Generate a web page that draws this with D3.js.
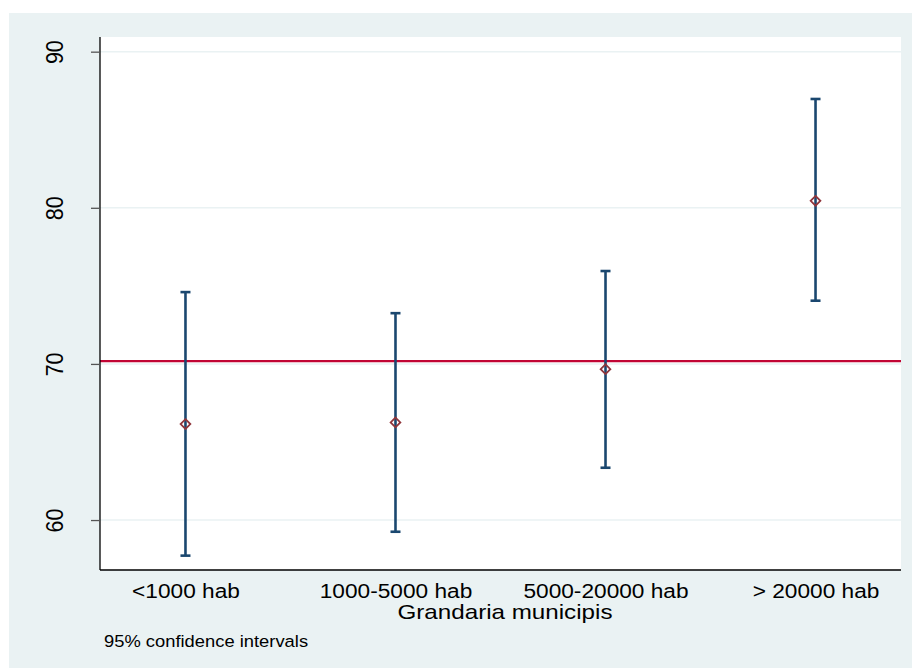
<!DOCTYPE html>
<html>
<head>
<meta charset="utf-8">
<script src="https://cdn.jsdelivr.net/npm/d3@7/dist/d3.min.js"></script>
<style>
  html, body { margin: 0; padding: 0; background: #ffffff; }
  svg { display: block; font-family: "Liberation Sans", Arial, Helvetica, sans-serif; }
</style>
</head>
<body>
<svg id="chart" width="912" height="669"></svg>
<script>
// ---- data ----
const categories = ["<1000 hab", "1000-5000 hab", "5000-20000 hab", "> 20000 hab"];
const means = [66.15, 66.25, 69.66, 80.45];
const lower = [57.72, 59.25, 63.35, 74.05];
const upper = [74.6, 73.25, 75.95, 86.97];
const referenceLine = 70.18;
const yTicks = [60, 70, 80, 90];
const xTitle = "Grandaria municipis";
const note = "95% confidence intervals";

// ---- layout ----
const W = 912, H = 669;
const plot = { left: 100, right: 901, top: 37, bottom: 570 };
const svg = d3.select("#chart");

// outer background
svg.append("rect").attr("x", 9).attr("y", 13).attr("width", W - 9).attr("height", 655)
  .attr("fill", "#eaf2f3");
// plot region
svg.append("rect").attr("x", plot.left).attr("y", plot.top)
  .attr("width", plot.right - plot.left).attr("height", plot.bottom - plot.top)
  .attr("fill", "#ffffff");

const x = d3.scalePoint().domain(categories).range([plot.left, plot.right]).padding(0.407);
const y = d3.scaleLinear().domain([56.8, 90.94]).range([plot.bottom, plot.top]);

// gridlines
svg.append("g").selectAll("line").data(yTicks).join("line")
  .attr("x1", plot.left).attr("x2", plot.right)
  .attr("y1", d => y(d)).attr("y2", d => y(d))
  .attr("stroke", "#eaf2f3").attr("stroke-width", 1.5);

// reference line
svg.append("line")
  .attr("x1", plot.left).attr("x2", plot.right)
  .attr("y1", y(referenceLine)).attr("y2", y(referenceLine))
  .attr("stroke", "#c10534").attr("stroke-width", 2.4);

// error bars
const idx = d3.range(categories.length);
const eb = svg.append("g").attr("stroke", "#1a476f").attr("stroke-width", 2.6).attr("fill", "none");
eb.selectAll("line.v").data(idx).join("line").attr("class", "v")
  .attr("x1", i => x(categories[i])).attr("x2", i => x(categories[i]))
  .attr("y1", i => y(lower[i])).attr("y2", i => y(upper[i]));
eb.selectAll("line.cu").data(idx).join("line").attr("class", "cu")
  .attr("x1", i => x(categories[i]) - 5).attr("x2", i => x(categories[i]) + 5)
  .attr("y1", i => y(upper[i])).attr("y2", i => y(upper[i]));
eb.selectAll("line.cl").data(idx).join("line").attr("class", "cl")
  .attr("x1", i => x(categories[i]) - 5).attr("x2", i => x(categories[i]) + 5)
  .attr("y1", i => y(lower[i])).attr("y2", i => y(lower[i]));

// markers (hollow diamonds)
const diamond = d3.symbol().type(d3.symbolDiamond2).size(60);
svg.append("g").selectAll("path").data(idx).join("path")
  .attr("transform", i => `translate(${x(categories[i])},${y(means[i])})`)
  .attr("d", diamond)
  .attr("fill", "none").attr("stroke", "#90353b").attr("stroke-width", 1.8);

// y axis
const yAxis = svg.append("g").attr("transform", `translate(${plot.left},0)`)
  .call(d3.axisLeft(y).tickValues(yTicks).tickSize(9).tickSizeOuter(0).tickFormat(d3.format("d")));
yAxis.select(".domain").attr("stroke", "#000").attr("stroke-width", 1.3)
  .attr("d", `M0,${plot.bottom}V${plot.top}`);
yAxis.selectAll(".tick line").attr("stroke", "#555").attr("stroke-width", 1.3);
yAxis.selectAll(".tick text")
  .attr("x", 0).attr("y", 0).attr("dy", 0)
  .attr("text-anchor", "middle")
  .attr("font-size", 21.5).attr("fill", "#000")
  .attr("font-family", "'Liberation Sans', Arial, sans-serif")
  .attr("transform", "translate(-37,0) scale(1.15,1) rotate(-90)");

// x axis
const xAxis = svg.append("g").attr("transform", `translate(0,${plot.bottom})`)
  .call(d3.axisBottom(x).tickSize(0).tickSizeOuter(0));
xAxis.select(".domain").attr("stroke", "#000").attr("stroke-width", 1.3)
  .attr("d", `M${plot.left},0H${plot.right}`);
xAxis.selectAll(".tick text")
  .attr("y", 0).attr("dy", 0)
  .attr("text-anchor", "middle")
  .attr("font-size", 21).attr("fill", "#000")
  .attr("font-family", "'Liberation Sans', Arial, sans-serif")
  .attr("transform", "translate(0,28) scale(1.08,1)");

// x title
svg.append("g").attr("transform", "translate(505,619) scale(1.18,1)")
  .append("text").attr("text-anchor", "middle").attr("font-size", 20.5).attr("fill", "#000")
  .text(xTitle);

// note
svg.append("g").attr("transform", "translate(104,647) scale(1.08,1)")
  .append("text").attr("text-anchor", "start").attr("font-size", 17).attr("fill", "#000")
  .text(note);
</script>
</body>
</html>
